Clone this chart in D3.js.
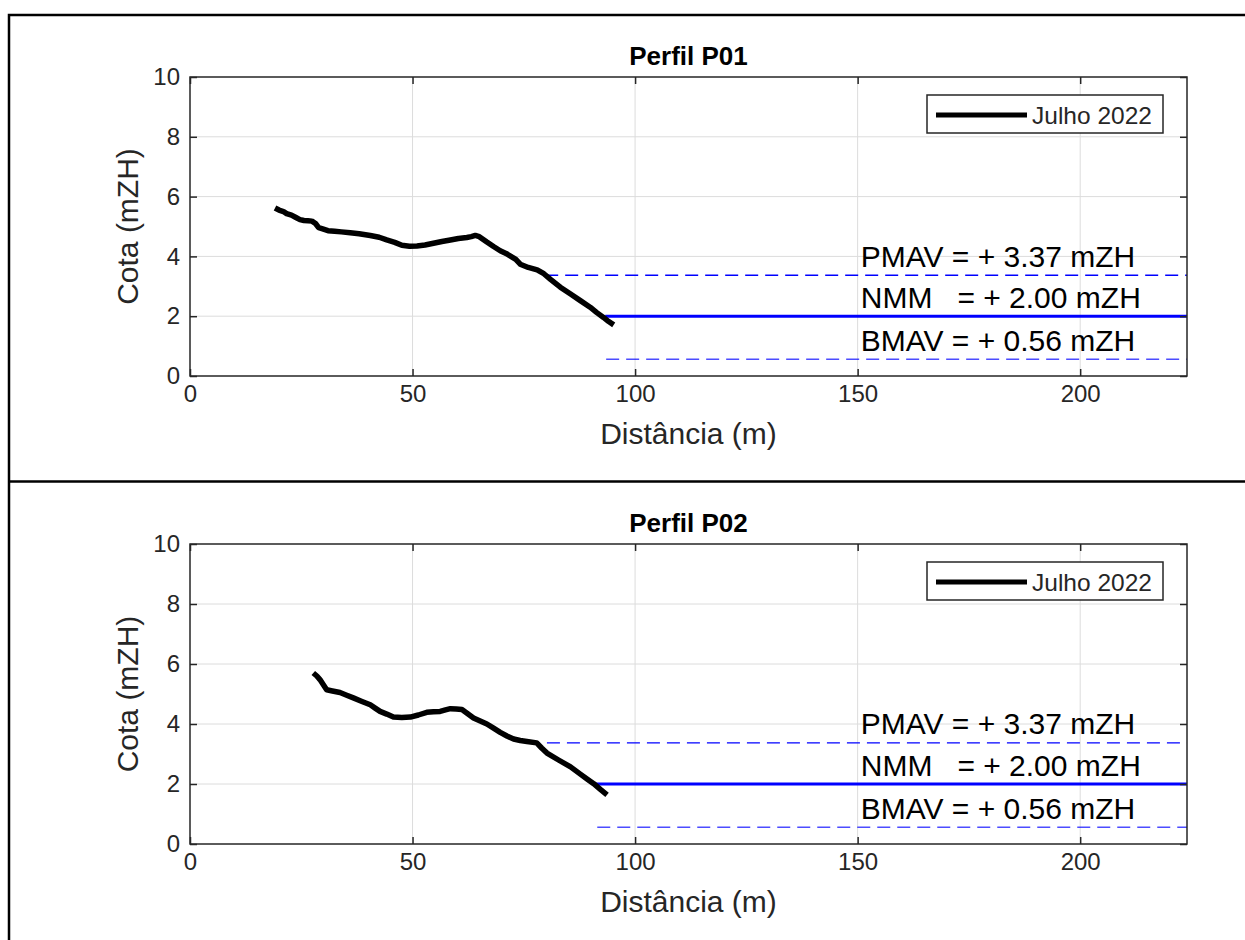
<!DOCTYPE html>
<html>
<head>
<meta charset="utf-8">
<script src="https://cdn.jsdelivr.net/npm/d3@7/dist/d3.min.js"></script>
<style>
  html, body { margin: 0; padding: 0; background: #fff; }
  svg { display: block; }
  text { font-family: "Liberation Sans", Arial, Helvetica, sans-serif; }
</style>
</head>
<body>
<svg id="chart" width="1245" height="940"></svg>
<script>
// ---- Data ----
const xTicks = [0, 50, 100, 150, 200];
const yTicks = [0, 2, 4, 6, 8, 10];
const xMax = 224;

const levelNames = ["PMAV", "NMM", "BMAV"];
const levelValues = [3.37, 2.00, 0.56];
const levelLabels = ["PMAV = + 3.37 mZH", "NMM   = + 2.00 mZH", "BMAV = + 0.56 mZH"];

const titles = ["Perfil P01", "Perfil P02"];
const legendLabel = "Julho 2022";

const p01Dist = [19.1,20.0,21.0,21.7,22.8,23.8,24.7,25.6,26.5,27.4,28.2,28.9,29.8,31.0,32.5,34.0,36.0,38.0,40.5,42.5,44.2,46.0,47.6,49.3,51.0,52.8,54.7,56.6,58.5,60.3,62.2,63.2,64.1,65.0,66.7,68.2,69.7,71.0,72.0,73.2,74.2,76.0,78.0,79.5,81.0,83.2,85.5,87.7,89.9,91.4,92.9,94.0,95.2];
const p01Cota = [5.62,5.55,5.50,5.43,5.38,5.30,5.23,5.20,5.19,5.18,5.10,4.96,4.92,4.86,4.84,4.82,4.79,4.76,4.70,4.64,4.55,4.47,4.37,4.34,4.35,4.38,4.44,4.50,4.55,4.60,4.63,4.66,4.70,4.66,4.48,4.33,4.19,4.10,4.01,3.90,3.74,3.63,3.55,3.42,3.23,2.97,2.74,2.52,2.30,2.12,1.96,1.83,1.71];
const p01LevelStart = [79.8, 93.3, 93.5];

const p02Dist = [27.7,28.5,29.2,30.0,30.7,32.0,33.7,35.2,36.7,38.5,40.5,41.6,42.7,44.2,45.7,47.6,49.5,51.3,53.2,54.7,56.2,57.4,58.5,59.8,61.1,62.4,63.7,65.2,66.7,68.2,69.7,71.2,72.7,74.2,75.7,77.9,79.0,80.2,82.8,85.5,87.7,89.2,90.7,92.2,93.7];
const p02Cota = [5.70,5.60,5.48,5.30,5.14,5.10,5.05,4.96,4.87,4.76,4.64,4.53,4.42,4.33,4.23,4.22,4.23,4.30,4.39,4.41,4.42,4.47,4.51,4.50,4.48,4.34,4.20,4.10,4.00,3.86,3.72,3.60,3.50,3.45,3.42,3.37,3.20,3.03,2.80,2.57,2.33,2.17,2.01,1.82,1.64];
const p02LevelStart = [75.7, 90.7, 91.5];

// ---- Layout ----
const svg = d3.select("#chart");
const axColor = "#262626";
const gridColor = "#dcdcdc";
const blue = "#0000ff";

// outer frame + divider
svg.append("rect").attr("x", 9).attr("y", 15).attr("width", 1250).attr("height", 940)
  .attr("fill", "none").attr("stroke", "#000").attr("stroke-width", 2.5);
svg.append("line").attr("x1", 9).attr("x2", 1245).attr("y1", 481.5).attr("y2", 481.5)
  .attr("stroke", "#000").attr("stroke-width", 2.5);

const panels = [
  { title: titles[0], dist: p01Dist, cota: p01Cota, start: p01LevelStart, top: 77, bottom: 376 },
  { title: titles[1], dist: p02Dist, cota: p02Cota, start: p02LevelStart, top: 544, bottom: 844 }
];

panels.forEach(p => {
  const x = d3.scaleLinear().domain([0, xMax]).range([190, 1187]);
  const y = d3.scaleLinear().domain([0, 10]).range([p.bottom, p.top]);
  const g = svg.append("g");

  // grid
  g.append("g").selectAll("line").data(xTicks.slice(1)).join("line")
    .attr("x1", d => x(d)).attr("x2", d => x(d)).attr("y1", p.top).attr("y2", p.bottom)
    .attr("stroke", gridColor).attr("stroke-width", 1);
  g.append("g").selectAll("line").data(yTicks.slice(1, -1)).join("line")
    .attr("x1", 190).attr("x2", 1187).attr("y1", d => y(d)).attr("y2", d => y(d))
    .attr("stroke", gridColor).attr("stroke-width", 1);

  // reference levels
  levelValues.forEach((v, i) => {
    g.append("line")
      .attr("x1", x(p.start[i])).attr("x2", x(xMax))
      .attr("y1", y(v)).attr("y2", y(v))
      .attr("stroke", blue)
      .attr("stroke-width", i === 1 ? 3 : (i === 0 ? 1.4 : 1.6))
      .attr("stroke-opacity", i === 2 ? 0.7 : 1)
      .attr("stroke-dasharray", i === 1 ? null : "13,7");
  });

  // profile
  const pts = p.dist.map((d, i) => [d, p.cota[i]]);
  g.append("path").datum(pts)
    .attr("d", d3.line().x(d => x(d[0])).y(d => y(d[1])))
    .attr("fill", "none").attr("stroke", "#000").attr("stroke-width", 5.5)
    .attr("stroke-linejoin", "round");

  // level annotations
  levelLabels.forEach((t, i) => {
    g.append("text").attr("x", x(150.7)).attr("y", y(levelValues[i]) - 8.5)
      .attr("font-size", 30).attr("fill", "#000")
      .style("white-space", "pre").attr("xml:space", "preserve")
      .text(t);
  });

  // axes box
  g.append("rect").attr("x", 190).attr("y", p.top).attr("width", 997).attr("height", p.bottom - p.top)
    .attr("fill", "none").attr("stroke", axColor).attr("stroke-width", 1.5);

  // axes with inward ticks (bottom/top/left/right)
  const tl = 7;
  g.append("g").attr("transform", `translate(0,${p.bottom})`)
    .call(d3.axisBottom(x).tickValues(xTicks).tickSize(-tl).tickPadding(9).tickFormat(d3.format("d")))
    .call(a => { a.select(".domain").remove(); a.selectAll("line").attr("stroke", axColor).attr("stroke-width", 1.5);
      a.selectAll("text").attr("font-size", 24).attr("fill", axColor).attr("font-family", "Liberation Sans, Arial, sans-serif"); });
  g.append("g").attr("transform", `translate(0,${p.top})`)
    .call(d3.axisTop(x).tickValues(xTicks).tickSize(-tl).tickFormat(""))
    .call(a => { a.select(".domain").remove(); a.selectAll("line").attr("stroke", axColor).attr("stroke-width", 1.5); });
  g.append("g").attr("transform", `translate(190,0)`)
    .call(d3.axisLeft(y).tickValues(yTicks).tickSize(-tl).tickPadding(10).tickFormat(d3.format("d")))
    .call(a => { a.select(".domain").remove(); a.selectAll("line").attr("stroke", axColor).attr("stroke-width", 1.5);
      a.selectAll("text").attr("font-size", 24).attr("fill", axColor).attr("font-family", "Liberation Sans, Arial, sans-serif"); });
  g.append("g").attr("transform", `translate(1187,0)`)
    .call(d3.axisRight(y).tickValues(yTicks).tickSize(-tl).tickFormat(""))
    .call(a => { a.select(".domain").remove(); a.selectAll("line").attr("stroke", axColor).attr("stroke-width", 1.5); });

  // labels
  g.append("text").attr("x", 688.5).attr("y", p.top - 12).attr("text-anchor", "middle")
    .attr("font-size", 26).attr("font-weight", "bold").attr("fill", "#000").text(p.title);
  g.append("text").attr("x", 688.5).attr("y", p.bottom + 68).attr("text-anchor", "middle")
    .attr("font-size", 30).attr("fill", axColor).text("Distância (m)");
  g.append("text").attr("transform", `translate(138,${(p.top + p.bottom) / 2}) rotate(-90)`)
    .attr("text-anchor", "middle").attr("font-size", 30).attr("fill", axColor).text("Cota (mZH)");

  // legend
  const lt = p.top + 18;
  g.append("rect").attr("x", 927).attr("y", lt).attr("width", 236).attr("height", 38)
    .attr("fill", "#fff").attr("stroke", axColor).attr("stroke-width", 1.5);
  g.append("line").attr("x1", 936).attr("x2", 1027).attr("y1", lt + 20).attr("y2", lt + 20)
    .attr("stroke", "#000").attr("stroke-width", 5);
  g.append("text").attr("x", 1032).attr("y", lt + 29).attr("font-size", 24.5).attr("fill", axColor).text(legendLabel);
});
</script>
</body>
</html>
